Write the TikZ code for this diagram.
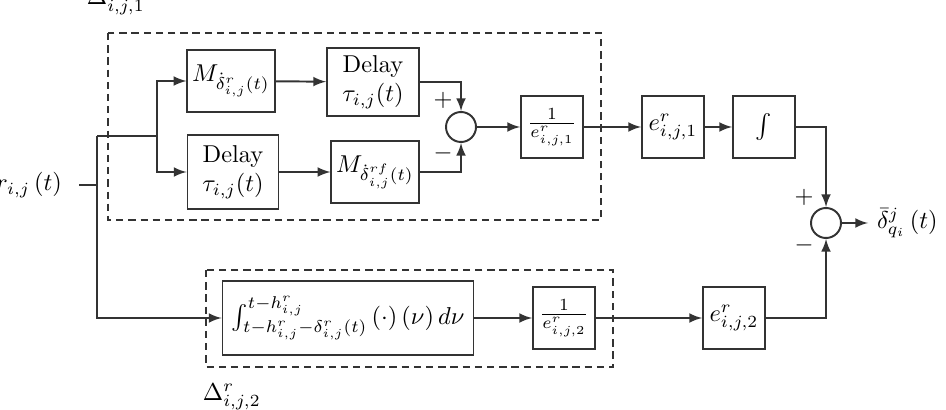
\documentclass[tikz,border=0pt]{standalone}
\usepackage{amsmath}
\usetikzlibrary{arrows}
\tikzstyle{block} = [rectangle, draw=black!80, minimum width=25.4pt, minimum height=25.4pt, text centered, inner sep=2pt]
\tikzstyle{sum} = [circle, draw=black!80, minimum size=12.3pt, inner sep=0pt]
\tikzstyle{arrow} = [draw=black!80, ->, >=latex]
\tikzstyle{line} = [draw=black!80]
\tikzstyle{group} = [draw=black!80, dash pattern=on 3pt off 2pt]

\begin{document}
\begin{tikzpicture}[x=0.41pt, y=-0.41pt, thick]
    \useasboundingbox (0,0) rectangle (946,410);

    % dashed groups and their names
    \draw [group] (108,33) rectangle (601,220);
    \draw [group] (206,270) rectangle (613,367);
    \node (grp1) [anchor=base west, inner sep=0pt] at (86,5) {$\Delta^{r}_{i,j,1}$};
    \node (grp2) [anchor=base west, inner sep=0pt] at (202,400) {$\Delta^{r}_{i,j,2}$};

    % upper path
    \node (m1) [block, minimum width=35.3pt] at (231,81) {$M_{\dot{\delta}^{r}_{i,j}(t)}$};
    \node (delay1) [block, minimum width=37.7pt, minimum height=28pt, align=center] at (373,82) {Delay\\$\tau_{i,j}(t)$};
    \node (delay2) [block, minimum width=37.3pt, minimum height=30pt, align=center] at (233,172) {Delay\\$\tau_{i,j}(t)$};
    \node (m2) [block, minimum width=35.7pt] at (375,172) {$M_{\dot{\delta}^{rf}_{i,j}(t)}$};
    \node (sum1) [sum] at (461,127) {};
    \node (inv1) [block] at (552,127) {$\frac{1}{e^{r}_{i,j,1}}$};
    \node (e1) [block] at (673,127) {$e^{r}_{i,j,1}$};
    \node (int1) [block] at (764,127) {$\int$};
    \node (sum2) [sum] at (826,223) {};

    % lower path
    \node (intg) [block, minimum width=102.9pt, minimum height=30pt] at (348,318) {$\int_{t-h^{r}_{i,j}-\delta^{r}_{i,j}(t)}^{t-h^{r}_{i,j}}\left(\cdot\right)\left(\nu\right)d\nu$};
    \node (inv2) [block] at (564,318) {$\frac{1}{e^{r}_{i,j,2}}$};
    \node (e2) [block] at (734,318) {$e^{r}_{i,j,2}$};

    % input and output
    \node (in) [anchor=east, inner sep=0pt, outer sep=7pt] at (79,185) {$r_{i,j}\left(t\right)$};
    \node (out) [anchor=west] at (868,223) {$\bar{\delta}^{j}_{q_i}\left(t\right)$};
    \coordinate (j0) at (97,185);
    \coordinate (j1) at (97,136);
    \coordinate (j2) at (157,136);

    % signs at the summing junctions
    \node (plus1) at (443,100) {$+$};
    \node (minus1) at (443,153) {$-$};
    \node (plus2) at (804,197) {$+$};
    \node (minus2) at (804,245) {$-$};

    \draw [line] (in.east) -- (j0);
    \draw [arrow] (j1) |- (intg.west);
    \draw [line] (j1) -- (j2);
    \draw [arrow] (j2) |- (m1.west);
    \draw [arrow] (j2) |- (delay2.west);
    \draw [arrow] (m1) -- (delay1);
    \draw [arrow] (delay2) -- (m2);
    \draw [arrow] (delay1.east) -| (sum1.north);
    \draw [arrow] (m2.east) -| (sum1.south);
    \draw [arrow] (sum1) -- (inv1);
    \draw [arrow] (inv1) -- (e1);
    \draw [arrow] (e1) -- (int1);
    \draw [arrow] (int1.east) -| (sum2.north);
    \draw [arrow] (intg) -- (inv2);
    \draw [arrow] (inv2) -- (e2);
    \draw [arrow] (e2.east) -| (sum2.south);
    \draw [arrow] (sum2) -- (out);
\end{tikzpicture}
\end{document}
